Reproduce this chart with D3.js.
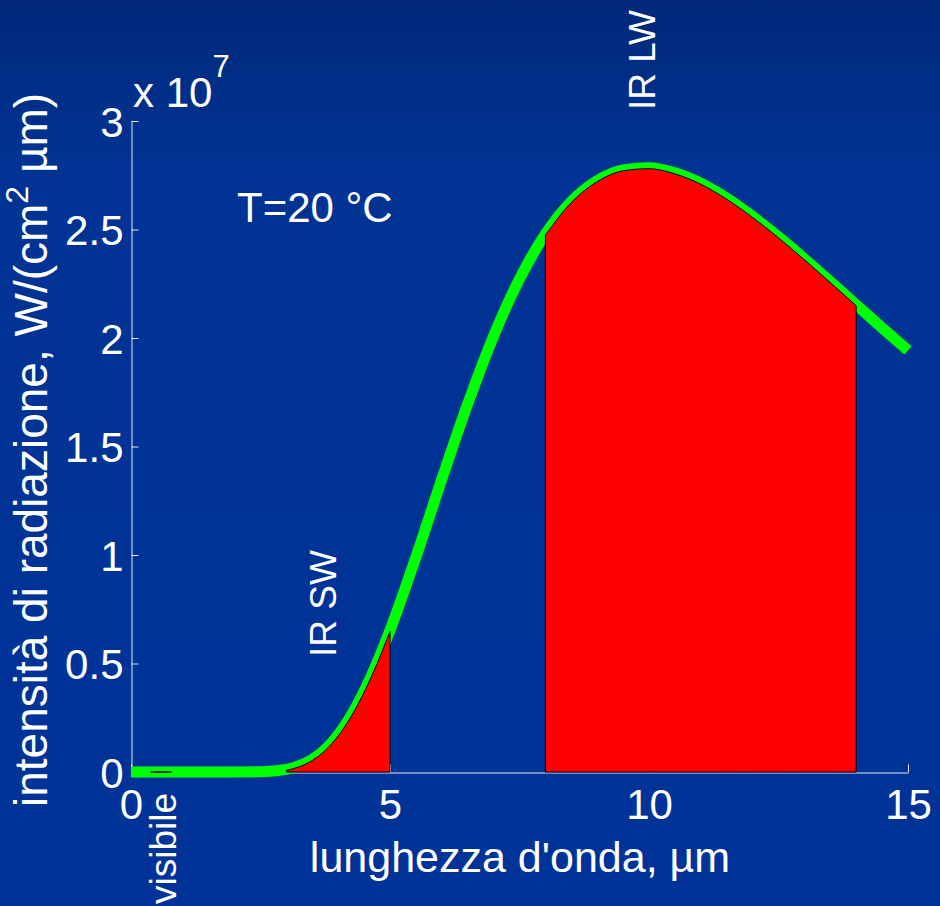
<!DOCTYPE html>
<html>
<head>
<meta charset="utf-8">
<script src="https://cdn.jsdelivr.net/npm/d3@7"></script>
<style>
  html, body { margin: 0; padding: 0; background: #003399; }
  svg { display: block; }
  text { font-family: "Liberation Sans", Arial, sans-serif; fill: #fff; }
</style>
</head>
<body>
<svg id="chart" width="940" height="906"></svg>
<script>
"use strict";

// wavelength (um) and intensity (x 10^7)
const lambda = [0, 0.5, 1, 1.5, 2, 2.5, 3, 3.25, 3.5, 3.75, 4, 4.25, 4.5, 4.75, 5,
  5.5, 6, 6.5, 7, 7.5, 8, 8.5, 9, 9.5, 10, 10.5, 11, 11.5, 12, 12.5, 13, 13.5, 14, 14.5, 15];
const intensity = [0, 0, 0, 0, 0, 0.001, 0.012, 0.029, 0.058, 0.104, 0.171, 0.260, 0.372, 0.504, 0.653,
  0.990, 1.349, 1.696, 2.009, 2.272, 2.479, 2.629, 2.725, 2.775, 2.785, 2.761, 2.713, 2.644, 2.560, 2.466, 2.365, 2.260, 2.153, 2.047, 1.943];

// shaded bands
const bands = [
  {name: "IR SW", from: 3, to: 5},
  {name: "IR LW", from: 8, to: 14}
];
const visible = [0.38, 0.78];

const xTicks = [0, 5, 10, 15];
const xTickLabels = ["0", "5", "10", "15"];
const yTicks = [0, 0.5, 1, 1.5, 2, 2.5, 3];
const yTickLabels = ["0", "0.5", "1", "1.5", "2", "2.5", "3"];

(() => {
  const svg = d3.select("#chart");

  // background gradient, darker at top
  const defs = svg.append("defs");
  const grad = defs.append("linearGradient")
    .attr("id", "bg").attr("x1", 0).attr("y1", 0).attr("x2", 0).attr("y2", 1);
  grad.append("stop").attr("offset", "0%").attr("stop-color", "#01287a");
  grad.append("stop").attr("offset", "18%").attr("stop-color", "#003393");
  grad.append("stop").attr("offset", "100%").attr("stop-color", "#003399");
  svg.append("rect").attr("width", 940).attr("height", 906).attr("fill", "url(#bg)");

  const x = d3.scaleLinear().domain([0, 15]).range([131, 908]);
  const y = d3.scaleLinear().domain([0, 3]).range([772, 121]);

  const data = lambda.map((l, i) => ({l: l, v: intensity[i]}));

  // axes
  const yAxis = d3.axisLeft(y)
    .tickValues(yTicks)
    .tickFormat((d, i) => yTickLabels[i])
    .tickSizeInner(-7).tickSizeOuter(0).tickPadding(8);
  const gy = svg.append("g").attr("transform", "translate(131.5,0)").call(yAxis);

  const xAxis = d3.axisBottom(x)
    .tickValues(xTicks)
    .tickFormat((d, i) => xTickLabels[i])
    .tickSizeInner(-8).tickSizeOuter(0).tickPadding(16);
  const gx = svg.append("g").attr("transform", "translate(0,772.5)").call(xAxis);

  [gx, gy].forEach(g => {
    g.select(".domain").attr("stroke", "#e4e9f6").attr("stroke-width", 1);
    g.selectAll(".tick line").attr("stroke", "#e4e9f6");
    g.selectAll(".tick text")
      .style("font-family", '"Liberation Sans", Arial, sans-serif')
      .attr("font-size", 42).attr("fill", "#fff");
  });
  gy.selectAll(".tick text").attr("dy", "0.36em");
  gx.selectAll(".tick text").attr("dy", "0.72em");

  // curve
  const line = d3.line()
    .x(d => x(d.l)).y(d => y(d.v))
    .curve(d3.curveMonotoneX);
  svg.append("path")
    .datum(data)
    .attr("d", line)
    .attr("fill", "none")
    .attr("stroke", "#00ff00")
    .attr("stroke-width", 11);

  // red areas on top
  const area = d3.area()
    .x(d => x(d.l)).y0(y(0)).y1(d => y(d.v) + 1)
    .curve(d3.curveMonotoneX);
  bands.forEach(b => {
    svg.append("path")
      .datum(data.filter(d => d.l >= b.from && d.l <= b.to))
      .attr("d", area)
      .attr("fill", "#ff0000")
      .attr("stroke", "#000")
      .attr("stroke-width", 1);
  });

  // visible band (zero height)
  svg.append("line")
    .attr("x1", x(visible[0])).attr("x2", x(visible[1]))
    .attr("y1", y(0)).attr("y2", y(0))
    .attr("stroke", "#000").attr("stroke-width", 1.5);

  // texts
  const t1 = svg.append("text").attr("x", 133).attr("y", 107).attr("font-size", 42);
  t1.append("tspan").text("x 10");
  t1.append("tspan").attr("dy", -30).attr("font-size", 31).text("7");

  svg.append("text").attr("x", 237).attr("y", 222).attr("font-size", 42).text("T=20 °C");

  svg.append("text")
    .attr("transform", "translate(655,110) rotate(-90)")
    .attr("font-size", 37).text("IR LW");
  svg.append("text")
    .attr("transform", "translate(336,657) rotate(-90)")
    .attr("font-size", 37).text("IR SW");
  svg.append("text")
    .attr("transform", "translate(176,904) rotate(-90)")
    .attr("font-size", 37).text("visibile");

  svg.append("text")
    .attr("x", 520).attr("y", 872)
    .attr("text-anchor", "middle")
    .attr("font-size", 43)
    .text("lunghezza d'onda,  \u00b5m");

  const yl = svg.append("text")
    .attr("transform", "translate(47,450) rotate(-90)")
    .attr("text-anchor", "middle")
    .attr("font-size", 46);
  yl.append("tspan").text("intensità di radiazione, W/(cm");
  yl.append("tspan").attr("dy", -19).attr("font-size", 32).text("2");
  yl.append("tspan").attr("dy", 19).text("  \u00b5m)");
})();
</script>
</body>
</html>
